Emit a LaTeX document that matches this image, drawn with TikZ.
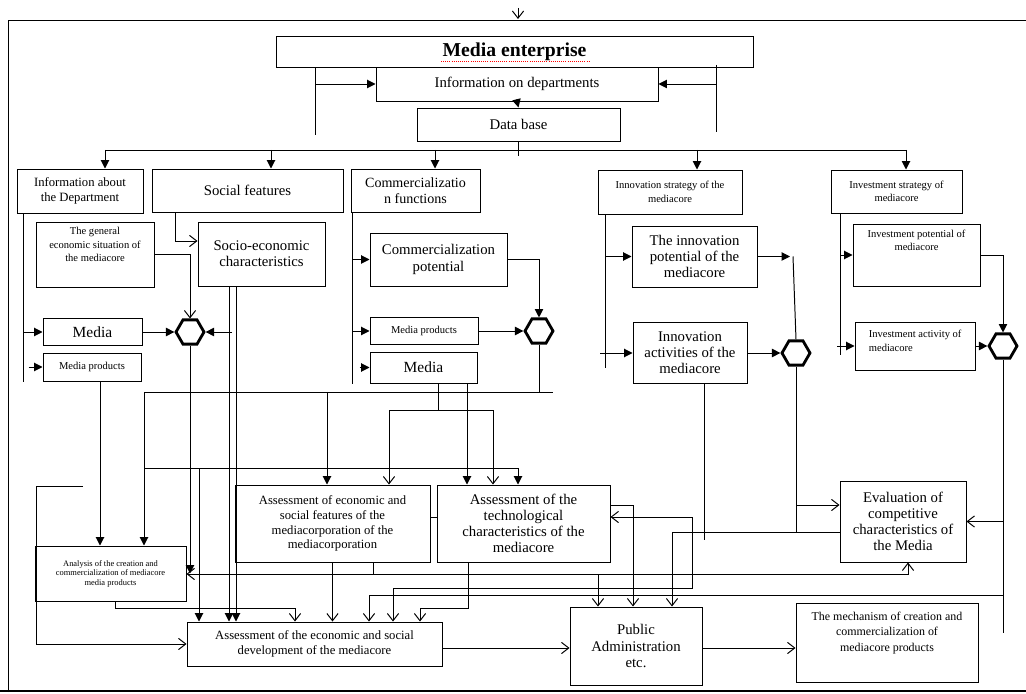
\documentclass[tikz,border=0pt]{standalone}
\usepackage{fontspec}
\setmainfont{Liberation Serif}
\usetikzlibrary{arrows.meta,positioning,shapes.geometric}

\begin{document}
\begin{tikzpicture}[x=0.025cm,y=-0.025cm,line width=0.7pt,
                    wh/.style 2 args={minimum width=#1*0.025cm,minimum height=#2*0.025cm}]
  \tikzstyle{box}=[draw,rectangle,inner sep=1pt,align=center]
  \tikzstyle{midtxt}=[font=\fontsize{10.5}{11.5}\selectfont]
  \tikzstyle{smtxt}=[font=\fontsize{7.5}{9.5}\selectfont,align=center]
  \tikzstyle{hexa}=[draw,regular polygon,regular polygon sides=6,minimum size=0.7cm,inner sep=0pt,line width=2pt]
  \tikzstyle{fl}=[-{Triangle[length=2.1mm,width=2.1mm]}]
  \tikzstyle{op}=[-{Straight Barb[length=1.8mm,width=2.8mm]}]
  \tikzstyle{opop}=[{Straight Barb[length=1.8mm,width=2.8mm]}-{Straight Barb[length=1.8mm,width=2.8mm]}]

  \useasboundingbox (0,0) rectangle (1026,694);
  \draw (8,692) -- (8,20) -- (1026,20);
  \draw[line width=1.5pt] (0,691) -- (1026,691);
  \coordinate (top) at (518,8);
  \draw[op] (top) -- ++(0,11);

  \node[box,wh={477}{31},font=\fontsize{14}{16}\selectfont\bfseries] (ent) at (514.5,51.5) {Media enterprise};
  \draw[red,densely dotted,line width=0.5pt] (441,61) -- (589,61);
  \node[box,midtxt,wh={282}{34}] (dep) at (517,84) {Information on departments};
  \node[box,midtxt,wh={203}{33}] (db) at (518.5,124.5) {Data base};

  \node[box,wh={126}{44},font=\fontsize{9}{11}\selectfont] (infod) at (80,191) {Information about\\the Department};
  \node[box,midtxt,wh={191}{43}] (soc) at (247.5,190.5) {Social features};
  \node[box,wh={129}{43},font=\fontsize{10}{11.5}\selectfont] (com) at (415.5,190.5) {Commercializatio\\n functions};
  \node[box,smtxt,wh={144}{44}] (inns) at (670,192) {Innovation strategy of the\\mediacore};
  \node[box,smtxt,wh={131}{43}] (invs) at (896.5,191.5) {Investment strategy of\\mediacore};

  \node[box,wh={118}{65}] (gen) at (95,254.5) {};
  \node[smtxt,below=0.5pt of gen.north] (genT) {The general\\economic situation of\\the mediacore};
  \node[box,wh={99}{27},font=\fontsize{11}{13}\selectfont] (medA) at (92.5,332) {Media};
  \node[box,smtxt,wh={98}{28}] (prodA) at (92,367) {Media products};
  \node[hexa] (hexA) at (190,332) {};
  \node[box,midtxt,wh={127}{64}] (se) at (261.5,254) {Socio-economic\\characteristics};

  \node[box,midtxt,wh={137}{53}] (cpot) at (438.5,259.5) {Commercialization\\potential};
  \node[box,smtxt,wh={108}{27}] (prodB) at (424,331) {Media products};
  \node[box,wh={107}{31},font=\fontsize{11}{13}\selectfont] (medB) at (423.5,367.5) {Media};
  \node[hexa] (hexB) at (539,331) {};

  \node[box,midtxt,wh={125}{61}] (ipot) at (694.5,256.5) {The innovation\\potential of the\\mediacore};
  \node[box,midtxt,wh={114}{61}] (iact) at (690,353) {Innovation\\activities of the\\mediacore};
  \node[hexa] (hexC) at (796,353) {};

  \node[box,wh={127}{62}] (vpot) at (916.5,255) {};
  \node[smtxt,below=1pt of vpot.north] (vpotT) {Investment potential of\\mediacore};
  \node[box,wh={120}{48}] (vact) at (915,346) {};
  \node[smtxt,align=left,below right=0.9mm and 2.3mm of vact.north west] (vactT) {Investment activity of\\mediacore};
  \node[hexa] (hexD) at (1003,346) {};

  \node[box,wh={151}{55},font=\fontsize{6}{6.8}\selectfont] (anl) at (110.5,573.5) {Analysis of the creation and\\commercialization of mediacore\\media products};
  \node[box,wh={195}{77},font=\fontsize{9}{10.6}\selectfont] (aes) at (332.5,523.5) {Assessment of economic and\\social features of the\\mediacorporation of the\\mediacorporation};
  \node[box,midtxt,wh={173}{77}] (tech) at (523.5,523.5) {Assessment of the\\technological\\characteristics of the\\mediacore};
  \node[box,midtxt,wh={126}{81}] (evl) at (903,521.5) {Evaluation of\\competitive\\characteristics of\\the Media};
  \node[box,wh={255}{44},font=\fontsize{9}{11}\selectfont] (bot) at (314.5,644) {Assessment of the economic and social\\development of the mediacore};
  \node[box,midtxt,wh={132}{78}] (pub) at (636,646) {Public\\Administration\\etc.};
  \node[box,wh={182}{79}] (mech) at (887,642.5) {};
  \node[font=\fontsize{8.5}{11}\selectfont,align=center,below=3pt of mech.north] (mechT) {The mechanism of creation and\\commercialization of\\mediacore products};

  % top part
  \draw (315,0 |- ent.south) -- (315,135);
  \draw[fl] (315,0 |- dep.west) -- (dep.west);
  \draw (716,65) -- (716,132);
  \draw[fl] (716,0 |- dep.east) -- (dep.east);
  \draw[fl] (dep.south) -- (db.north);
  \coordinate (busL) at (105,150);
  \coordinate (busR) at (906,150);
  \draw (busL) -- (busR);
  \draw (db.south) -- ++(0,15);
  \foreach \x/\n in {105/infod,271/soc,435/com,697/inns,906/invs}
    \draw[fl] (\x,150) -- (\x,0 |- \n.north);

  % department, social features
  \draw (23,0 |- infod.south) -- (23,382);
  \draw[fl] (23,0 |- medA.west) -- (medA.west);
  \draw[fl] (prodA.west) ++(-14,0) -- (prodA.west);
  \draw[fl] (medA.east) -- (hexA.west);
  \draw[op] (gen.east) -| (hexA.north);
  \draw[op] (175,0 |- soc.south) |- ([yshift=3.25mm]se.west);
  \draw[fl] (232,0 |- hexA.east) -- (hexA.east);
  \draw[fl] (229,0 |- se.south) -- (229,0 |- bot.north);
  \draw[fl] (236,0 |- se.south) -- (236,0 |- bot.north);
  \draw[fl] (hexA.south) -- (hexA.south |- anl.east);

  \coordinate (b2L) at (144,392);
  \coordinate (b2R) at (553,392);
  \draw (hexB.south) -- (hexB.south |- b2R);
  \draw (b2L) -- (b2R);
  \draw[fl] (b2L) -- (b2L |- anl.north);
  \draw[fl] (327,392) -- (327,0 |- aes.north);
  \coordinate (b3R) at (518,468);
  \draw (144,468) -- (b3R);
  \draw[fl] (b3R) -- (b3R |- tech.north);
  \draw[fl] (199,468) -- (199,0 |- bot.north);

  % commercialization
  \draw (352,0 |- com.south) -- (352,384);
  \draw[fl] (352,0 |- cpot.west) -- (cpot.west);
  \draw[fl] (352,0 |- prodB.west) -- (prodB.west);
  \draw[fl] (medB.west) ++(-10,0) -- (medB.west);
  \draw[fl] (cpot.east) -| (hexB.north);
  \draw[fl] (prodB.east) -- (hexB.west);
  \coordinate (mB) at (438,410);
  \draw (438,0 |- medB.south) -- (mB);
  \draw[op] (mB) -| (389,0 |- aes.north);
  \draw[op] (mB) -| (493,0 |- tech.north);
  \draw[fl] (467,0 |- medB.south) -- (467,0 |- tech.north);
  \draw (aes.east |- 0,517) -- (tech.west |- 0,517);

  % innovation
  \draw (605,0 |- inns.south) -- (605,368);
  \draw[fl] (605,0 |- ipot.west) -- (ipot.west);
  \draw[fl] (600,0 |- iact.west) -- (iact.west);
  \draw[fl] (ipot.east) -- (790,0 |- ipot.east);
  \draw (793,0 |- ipot.east) -- (hexC.north);
  \draw[fl] (iact.east) -- (hexC.west);
  \draw (hexC.south) -- (796,533);
  \draw[op] (796,505) -- (evl.west |- 0,505);
  \draw (704,0 |- iact.south) -- (704,540);

  % investment
  \draw (840,0 |- invs.south) -- (840,355);
  \draw[fl] (840,0 |- vpot.west) -- (vpot.west);
  \draw[fl] (837,0 |- vact.west) -- (vact.west);
  \draw[fl] (vpot.east) -| (hexD.north);
  \draw[fl] (vact.east) -- (hexD.west);
  \draw (hexD.south) -- (1003,633);
  \draw[op] (1003,0 |- evl.east) -- (evl.east);
  \draw[op] (1003,595) -| (369,0 |- bot.north);

  % assessments
  \coordinate (aesB) at (373,574);
  \draw (373,0 |- aes.south) -- (aesB);
  \draw[op] (aesB) -- (anl.east |- aesB);
  \draw[op] (aesB) -| (908,0 |- evl.south);
  \draw[op] (598,574) -- (598,0 |- pub.north);
  \draw[op] (aes.south) -- (aes.south |- bot.north);
  \draw[op] (468,0 |- tech.south) |- (420,608) -- (420,0 |- bot.north);
  \draw[opop] (393,0 |- bot.north) |- (692,588) |- (tech.east |- 0,517);
  \draw[op] (tech.east |- 0,505) -| (633,0 |- pub.north);
  \draw[op] (evl.west |- 0,532) -| (672,0 |- pub.north);
  \draw[op] (83,486) -- (36,486) |- (bot.west);
  \draw[op] (115,0 |- anl.south) |- (295,608) -- (295,0 |- bot.north);
  \draw[fl] (100,0 |- prodA.south) -- (100,0 |- anl.north);
  \draw[op] (bot.east |- 0,648) -- (pub.west |- 0,648);
  \draw[op] (pub.east |- 0,648) -- (mech.west |- 0,648);
\end{tikzpicture}
\end{document}
